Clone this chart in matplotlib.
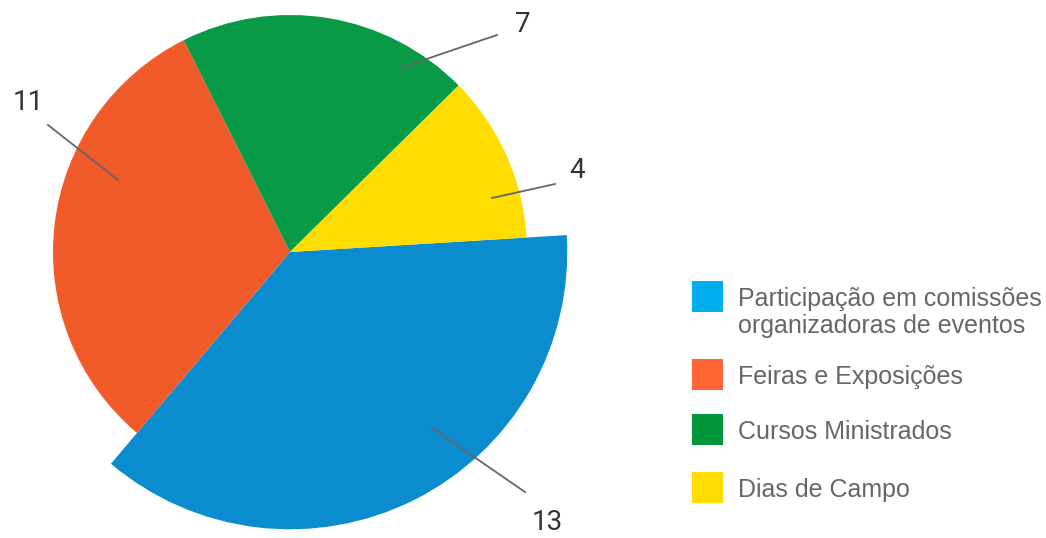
import matplotlib.pyplot as plt
import matplotlib.patches as patches

# dados
categorias = ["Participação em comissões\norganizadoras de eventos",
              "Feiras e Exposições",
              "Cursos Ministrados",
              "Dias de Campo"]
valores = [13, 11, 7, 4]
cores_fatia = ["#0A8CCF", "#F15A29", "#089A47", "#FFDD00"]
cores_legenda = ["#00AEEF", "#FF6633", "#009639", "#FFDD00"]

W, H = 1046, 538
fig = plt.figure(figsize=(W / 100, H / 100), dpi=100)
ax = fig.add_axes([0, 0, 1, 1])

cx, cy, r = 290, 252, 237

# y invertido: counterclock=True aparece no sentido horário
fatias, _ = ax.pie(valores, colors=cores_fatia, startangle=-3.5, counterclock=True,
                   radius=r, center=(cx, cy), wedgeprops=dict(linewidth=0))
fatias[0].set_radius(r * 1.17)  # fatia azul maior

ax.set_xlim(0, W)
ax.set_ylim(H, 0)
ax.set_aspect("equal")
ax.axis("off")

# rótulos com linha de chamada (posições em pixels)
inicio_linha = [(432, 428), (118, 180), (400, 68), (492, 198)]
fim_linha = [(525, 492), (48, 125), (497, 35), (555, 184)]
pos_texto = [(547, 522), (28, 102), (523, 25), (577, 171)]
for v, (x0, y0), (x1, y1), (tx, ty) in zip(valores, inicio_linha, fim_linha, pos_texto):
    ax.plot([x0, x1], [y0, y1], color="#666666", lw=1.3)
    ax.text(tx, ty, str(v), ha="center", va="center", fontsize=20,
            family="Roboto", color="#333333")

# legenda manual
ys_quadrado = [296, 374, 429, 487]
for cat, cor, yq in zip(categorias, cores_legenda, ys_quadrado):
    ax.add_patch(patches.Rectangle((692, yq - 15.5), 31, 31, color=cor, lw=0))
    ax.text(738, yq - 9, cat, ha="left", va="top", fontsize=18,
            family="Liberation Sans", color="#666666", linespacing=1.15)

fig.savefig("out.png", dpi=100)
